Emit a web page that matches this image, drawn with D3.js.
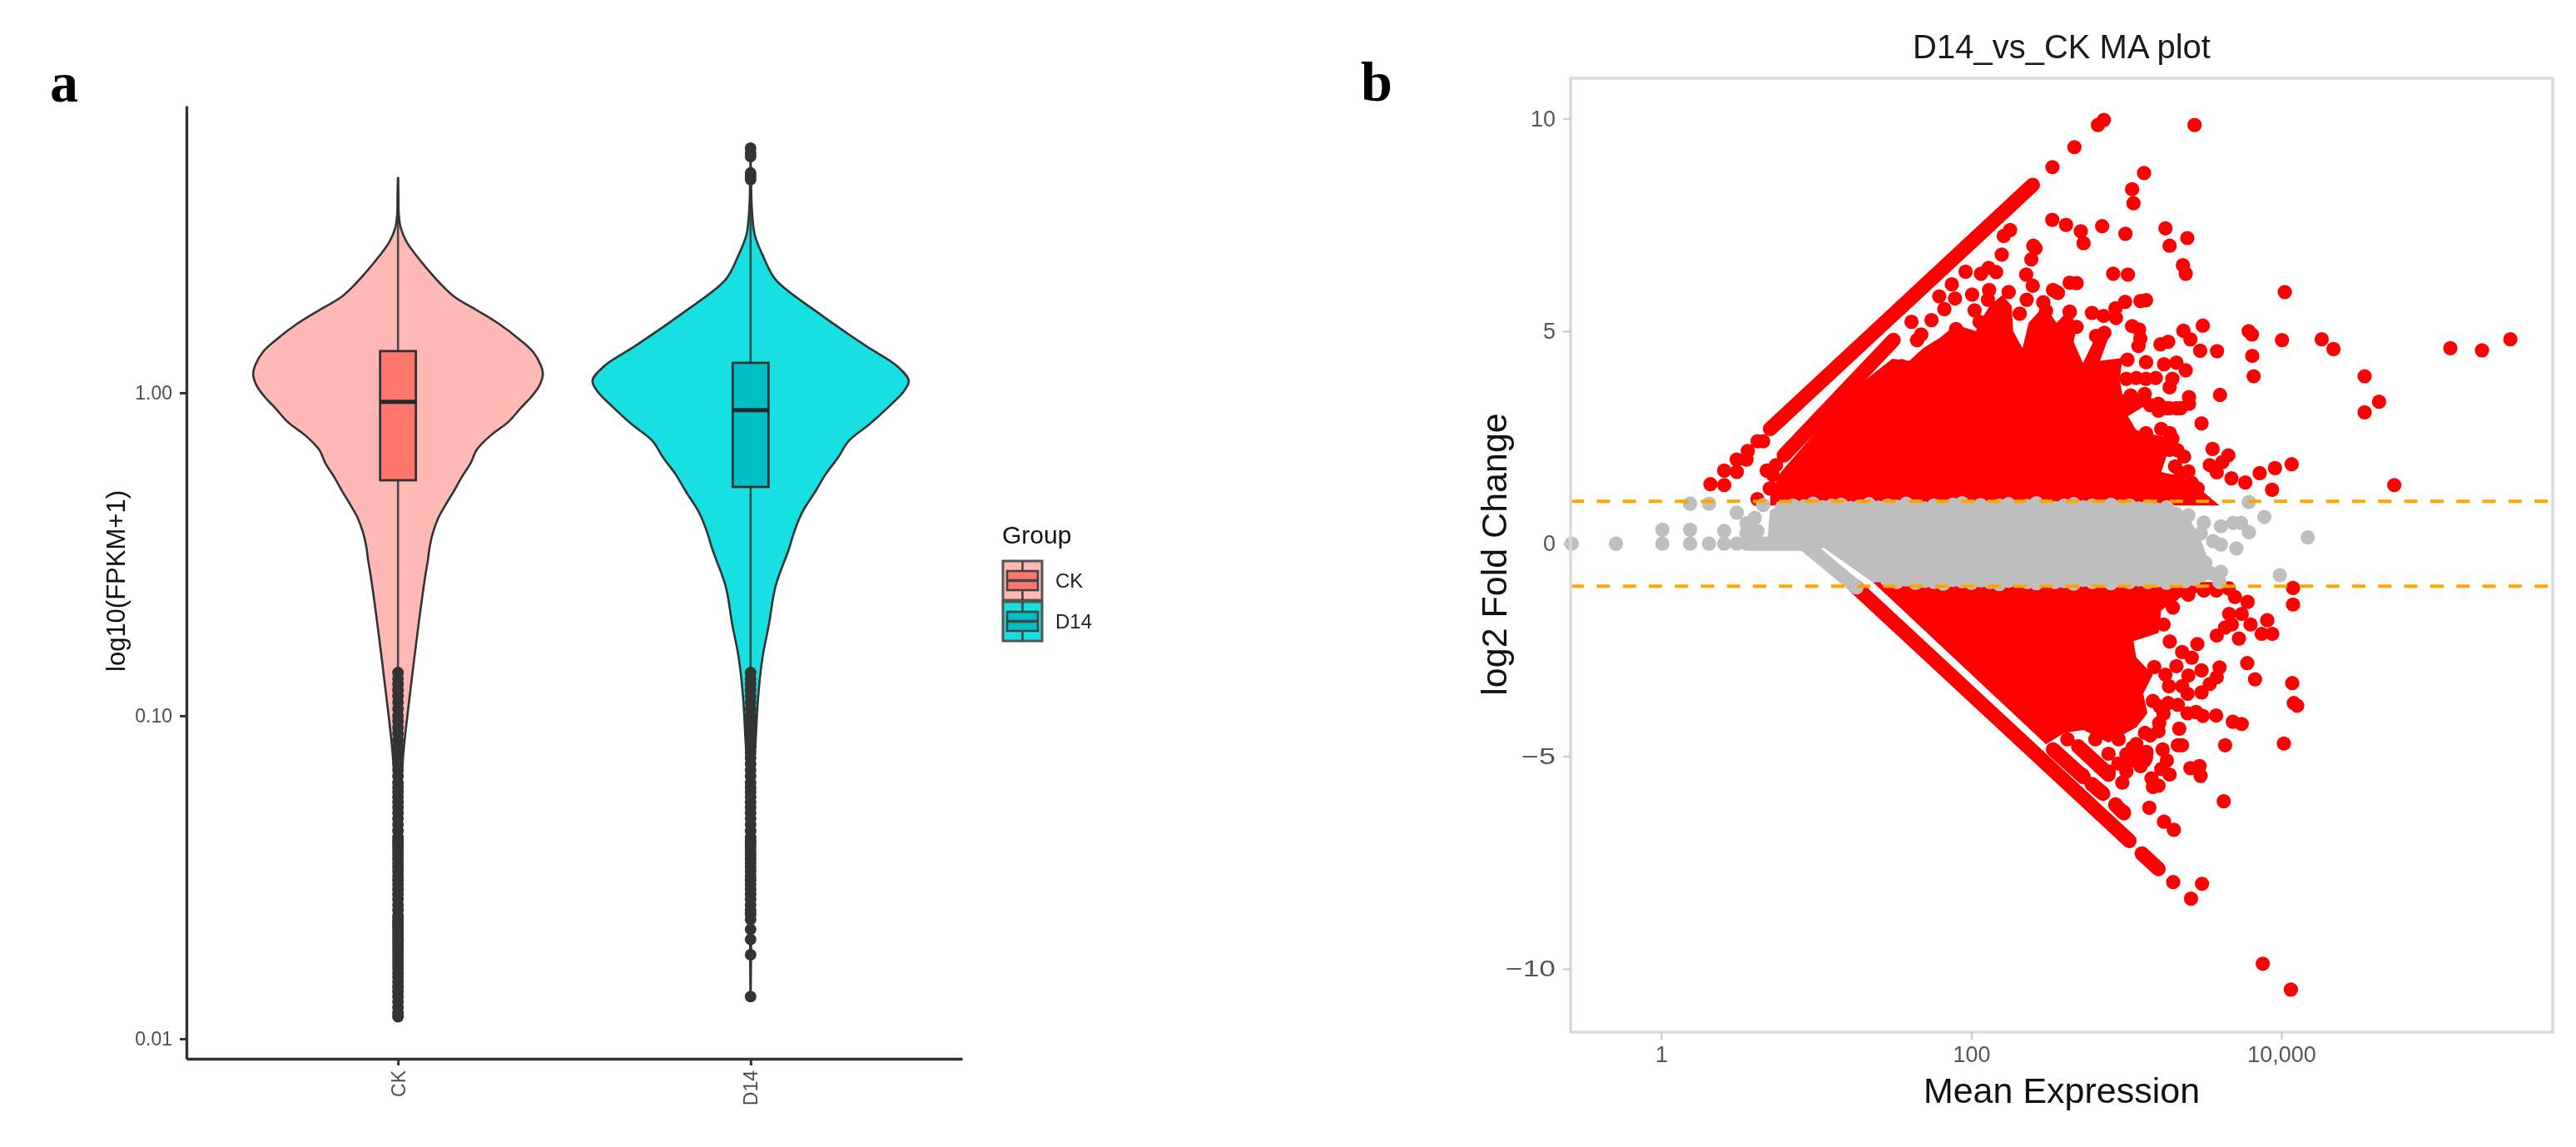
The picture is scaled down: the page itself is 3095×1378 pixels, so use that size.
<!DOCTYPE html>
<html><head><meta charset="utf-8">
<script src="https://cdn.jsdelivr.net/npm/d3@7"></script>
<style>
html,body{margin:0;padding:0;background:#fff}
svg{display:block;font-family:"Liberation Sans",Arial,sans-serif;filter:blur(0.6px)}
</style></head><body><svg id="c" width="3095" height="1378"></svg>
<script>
// ---------- Panel a: violin outlines ----------
const groups = ["CK","D14"];
const violinTicks = [0.01,0.1,1];
const ckFpkm = [4.65,4.1,3.58,3.26,2.94,2.66,2.42,2.19,1.98,1.80,1.63,1.47,1.34,1.21,1.14,1.055,.97,.90,.81,.74,.668,.604,.55,.496,.449,.408,.369,.333,.303,.274,.195,.115,.084,.068,.0436,.024,.0117];
const ckDensity = [0,.003,.005,.016,.053,.116,.184,.263,.358,.5,.642,.763,.853,.905,.916,.895,.842,.779,.695,.589,.5,.458,.405,.353,.3,.253,.221,.2,.189,.174,.132,.074,.042,.026,.01,.005,0];
const d14Fpkm = [5.8,4.57,3.73,3.09,2.65,2.24,1.77,1.40,1.21,1.09,1.01,.90,.80,.71,.63,.559,.496,.426,.369,.328,.252,.192,.15,.113,.0837,.068,.0436,.024,.0135];
const d14Density = [0,.003,.008,.026,.079,.158,.426,.726,.926,1,.968,.868,.753,.621,.553,.474,.411,.326,.274,.242,.158,.116,.074,.047,.032,.021,.01,.005,0];
const ckBox = {q1:.536, median:.937, q3:1.346, low:.136, high:4.65};
const d14Box = {q1:.511, median:.883, q3:1.238, low:.136, high:4.57};
const ckOutliers = [.136,.13,.125,.12,.115,.11,.105,.1,.096,.092,.088,.084,.08,.077,.074,.071,.068,.065,.062,.06,.058,.056,.054,.052,.05,.048,.046,.044,.042,.041,.04,.039,.038,.037,.036,.035,.034,.033,.032,.031,.03,.029,.028,.027,.026,.025,.024,.0235,.023,.0225,.022,.0215,.021,.0205,.02,.0195,.019,.0185,.018,.0175,.017,.0165,.016,.0155,.015,.0145,.014,.0135,.013,.0125,.012,.0117];
const d14Outliers = [5.72,5.52,5.39,4.79,4.68,4.57,.136,.13,.125,.12,.115,.11,.105,.1,.096,.092,.088,.084,.08,.077,.074,.071,.068,.065,.062,.06,.058,.056,.054,.052,.05,.048,.046,.044,.042,.041,.04,.039,.038,.037,.036,.035,.034,.033,.032,.031,.03,.029,.028,.027,.026,.025,.0243,.0234,.0218,.0203,.0182,.0135];
const violinFills = ["#FEB9B5","#17E0E3"];
const boxFills = ["#FF766D","#00BFC4"];

// ---------- Panel b: MA plot, [log10 mean expression, log2 fold change] ----------
const maXTicks = [0,2,4];
const maXLabels = ["1","100","10,000"];
const maYTicks = [-10,-5,0,5,10];
const thresholds = [1,-1];
const redUpperMass = [[.703,.9],[.703,1.63],[.737,1.43],[.773,1.69],[1.006,2.67],[1.2,3.55],[1.35,3.95],[1.49,4.35],[1.6,4.3],[1.69,4.6],[1.8,4.85],[1.9,5.15],[2.03,5.0],[2.05,5.2],[2.12,5.6],[2.2,5.85],[2.26,5.6],[2.27,5.0],[2.33,4.6],[2.37,5.2],[2.47,5.6],[2.55,5.2],[2.63,5.5],[2.68,5.1],[2.66,4.75],[2.72,4.25],[2.8,4.85],[2.9,5.0],[2.83,4.3],[2.975,4.37],[2.957,3.85],[2.974,3.52],[3.153,3.32],[3.01,3.0],[3.064,2.67],[3.207,2.54],[3.315,2.47],[3.261,2.08],[3.225,1.69],[3.368,1.56],[3.494,1.23],[3.60,.9]];
const redLowerMass = [[1.364,-.9],[2.482,-4.72],[2.599,-4.45],[2.724,-4.38],[2.885,-4.68],[3.064,-4.32],[3.136,-3.99],[3.109,-3.53],[3.171,-3.08],[3.064,-2.68],[3.046,-2.29],[3.207,-2.10],[3.225,-1.57],[3.315,-1.31],[3.69,-.9]];
const redRuns = [
 [[2.396,8.44],[.702,2.70]],
 [[1.498,4.79],[.791,2.08]],
 [[1.25,-1.0],[3.019,-6.99]],
 [[3.100,-7.29],[3.207,-7.65]],
 [[2.527,-4.84],[2.724,-5.49]],
 [[2.69,-4.77],[2.885,-5.43]],
 [[2.778,-5.66],[2.85,-5.88]],
 [[2.93,-6.15],[2.984,-6.34]]
];
const redPoints = [
[2.855,9.97],[2.817,9.85],[3.44,9.85],[2.665,9.33],[2.523,8.86],[3.114,8.72],[3.037,8.34],[3.046,8.01],[2.522,7.62],[2.611,7.50],[2.844,7.47],[2.706,7.35],[2.724,7.07],[2.994,7.29],[3.252,7.42],[3.393,7.19],[3.279,7.01],[3.365,6.55],[3.383,6.35],[2.915,6.35],[3.01,6.33],[4.022,5.92],[2.634,6.14],[2.679,6.13],[2.527,5.97],[2.559,5.90],[2.992,5.69],[3.091,5.71],[3.127,5.73],[2.778,5.43],[2.853,5.36],[2.93,5.54],[2.933,5.31],[2.634,5.46],[3.493,5.13],[3.368,5.01],[3.413,4.81],[3.037,5.12],[3.082,5.04],[3.09,4.83],[3.078,4.65],[2.858,4.96],[2.804,4.89],[3.27,4.75],[3.22,4.69],[3.789,5.0],[3.81,4.92],[4.004,4.79],[4.26,4.81],[4.336,4.58],[5.09,4.60],[5.294,4.55],[5.477,4.81],[3.476,4.54],[3.585,4.53],[3.812,4.42],[3.821,3.94],[4.537,3.94],[4.63,3.34],[4.537,3.09],[3.604,3.5],[3.485,2.83],[3.556,2.23],[3.658,2.08],[3.619,1.92],[3.538,1.85],[3.583,1.68],[3.678,1.54],[3.767,1.44],[3.86,1.66],[3.959,1.78],[4.066,1.87],[4.728,1.38],[3.372,2.05],[3.127,4.27],[3.243,4.22],[3.323,4.26],[3.383,4.08],[3.007,4.33],[3.19,3.9],[3.127,3.88],[3.064,3.9],[3.0,3.88],[3.297,3.88],[3.279,3.68],[3.404,3.45],[3.404,3.29],[3.323,3.19],[3.252,3.19],[3.207,3.29],[3.225,2.70],[3.297,2.47],[3.279,2.21],[3.127,2.6],[3.118,3.52],[3.028,3.49],[3.314,1.82],[3.35,1.66],[3.422,1.43],[3.368,1.30],[3.94,1.27],
[3.064,3.32],[3.153,3.26],[3.207,3.13],[3.279,3.19],[3.35,3.19],[3.28,2.6],[3.33,2.2],[3.4,1.7],[3.46,1.3],[3.3,1.45],
[.621,2.41],[.657,2.41],[.558,2.18],[.487,1.98],[.55,1.98],[.406,1.72],[.487,1.69],[.317,1.40],[.406,1.38],[.62,1.05],[.70,1.3],[.74,1.85],[.68,1.72],[.72,1.62],
[2.25,7.38],[2.209,7.24],[2.196,6.80],[2.414,6.95],[2.387,6.69],[2.40,7.01],[2.354,6.33],[2.396,6.07],[2.112,6.49],[2.062,6.35],[2.16,6.39],[1.963,6.40],[1.874,6.10],[1.793,5.82],[1.895,5.77],[1.826,5.52],[2.005,5.86],[2.115,5.97],[2.107,5.74],[2.241,5.92],[2.021,5.49],[2.053,5.22],[1.614,5.22],[1.743,5.26],[1.677,4.92],[1.65,4.79],[1.901,5.05],[2.357,5.74],[2.312,5.41],[2.464,5.68],[2.482,5.48],[2.635,5.45],[2.545,5.93],[2.679,5.1],[1.55,4.18],[1.47,4.0],
[4.075,-1.04],[4.075,-1.43],[3.782,-1.37],[3.909,-1.80],[3.873,-2.12],[3.941,-2.12],[3.801,-1.90],[3.744,-1.65],[3.663,-1.65],[3.726,-2.23],[3.78,-2.81],[3.83,-3.19],[4.07,-3.28],[4.08,-3.75],[4.102,-3.81],[4.016,-4.70],[3.637,-4.74],[3.744,-4.24],[3.687,-4.19],[3.579,-4.04],[3.493,-4.05],[3.449,-3.96],[3.395,-3.99],[3.332,-3.79],[3.601,-2.91],[3.583,-3.14],[3.538,-3.3],[3.485,-3.5],[3.395,-3.53],[3.485,-2.98],[3.422,-2.68],[3.275,-3.35],[3.171,-3.7],[3.216,-3.83],[3.207,-4.41],[3.212,-4.22],[3.341,-4.35],[3.332,-4.74],[3.359,-4.74],[3.234,-4.84],[3.261,-5.1],[3.225,-5.3],[3.279,-5.43],[3.162,-5.52],[3.171,-5.72],[3.207,-5.69],[3.413,-5.28],[3.472,-5.23],[3.479,-5.46],[3.628,-6.06],[3.148,-6.21],[3.243,-6.54],[3.306,-6.73],[2.93,-6.13],[2.983,-6.31],[2.778,-5.66],[2.831,-5.82],[3.302,-7.96],[3.488,-8.0],[3.417,-8.35],[3.88,-9.88],[4.061,-10.49],[3.091,-5.0],[3.127,-5.03],[3.046,-5.1],[3.091,-5.23],[2.974,-5.62],[3.0,-5.36],[2.948,-5.17],[2.885,-5.36],[3.064,-4.71],[2.885,-4.94],[3.458,-2.36],[3.583,-2.16],[3.637,-1.97],[3.68,-1.9],[3.323,-2.88],[3.252,-3.08],[2.715,-5.43],[3.046,-4.97],[3.118,-5.1],[3.154,-4.51],[3.3,-1.5],[3.4,-1.2],[3.5,-1.1],[3.58,-1.1],[3.66,-1.05],[3.7,-1.25],
[3.0,-4.95],[3.0,-5.1],[3.1,-5.1],[3.04,-4.8],[3.13,-4.9],[2.8,-4.6],[2.95,-4.6],[2.62,-4.6],[3.24,-1.9],[3.28,-2.3],[3.36,-2.55],[3.18,-2.9],[3.3,-1.2],[3.27,-3.75],[3.12,-4.45],[3.4,-3.1],[3.36,-3.35],[3.24,-4.0]
];
const grayMass = [[.70,.77],[.755,.9],[3.25,.9],[3.35,.8],[3.42,.5],[3.48,.1],[3.52,-.3],[3.55,-.8],[3.5,-.9],[1.36,-.9],[1.09,-.2],[1.05,-.1],[.93,-.157],[.68,-.157]];
const grayRuns = [[[.55,0],[.93,0]],[[.93,-.03],[1.26,-1.03]]];
const grayPoints = [
[-.578,0],[-.292,0],[.007,0],[.007,.33],[.186,0],[.186,.33],[.186,.94],[.308,0],[.308,.94],[.406,0],[.406,.30],[.487,0],[.487,.73],[.55,.48],[.55,.25],[.603,.61],[.657,.91],[.62,.3],
[4.17,.15],[3.89,.63],[3.79,.98],[3.79,.27],[3.74,.49],[3.69,.49],[3.61,.41],[3.56,.06],[3.71,-.11],[3.61,-.02],[3.61,-.66],[3.99,-.74],[3.51,-.45],[3.48,.24],[3.4,.67],[3.38,.59],[3.5,.5],[3.55,-.7],[3.6,-.9],
[.78,.86],[.85,.9],[.92,.88],[.98,.94],[1.04,.86],[1.1,.9],[1.16,.92],[1.22,.84],[1.28,.88],[1.34,.93],[1.4,.85],[1.46,.9],[1.52,.87],[1.58,.94],[1.64,.88],[1.7,.83],[1.76,.9],[1.82,.86],[1.88,.92],[1.94,.95],[2.0,.87],[2.06,.91],[2.12,.85],[2.18,.9],[2.24,.93],[2.3,.86],[2.36,.89],[2.42,.95],[2.48,.88],[2.54,.84],[2.6,.9],[2.66,.93],[2.72,.86],[2.78,.9],[2.84,.85],[2.9,.92],[2.96,.87],[3.02,.9],[3.08,.83],[3.14,.88],[3.2,.8],[3.26,.86],[3.32,.7],
[1.46,-.86],[1.52,-.9],[1.58,-.84],[1.64,-.92],[1.7,-.87],[1.76,-.9],[1.82,-.94],[1.88,-.85],[1.94,-.88],[2.0,-.92],[2.06,-.86],[2.12,-.9],[2.18,-.95],[2.24,-.87],[2.3,-.84],[2.36,-.9],[2.42,-.93],[2.48,-.86],[2.54,-.9],[2.6,-.88],[2.66,-.94],[2.72,-.85],[2.78,-.9],[2.84,-.87],[2.9,-.93],[2.96,-.86],[3.02,-.9],[3.08,-.84],[3.14,-.9],[3.2,-.86],[3.26,-.92],[3.32,-.85],[3.38,-.88],[3.44,-.83]
];

// ---------- Drawing ----------
const svg = d3.select("#c");
const textGray = "#4D4D4D", dark = "#333333";

// Panel a scales
const xA = d3.scalePoint().domain(groups).range([224,1156]).padding(0.6);
const yA = d3.scaleLog().domain([0.00867,7.74]).range([1272,127]);
const wA = d3.scaleLinear().domain([0,1]).range([0,190]);
const pa = svg.append("g");

const violins = [
 {g:"CK",y:ckFpkm,d:ckDensity,box:ckBox,out:ckOutliers},
 {g:"D14",y:d14Fpkm,d:d14Density,box:d14Box,out:d14Outliers}
];
violins.forEach((v,i)=>{
  const cx = xA(v.g);
  const area = d3.area().curve(d3.curveCatmullRom.alpha(.5))
    .y((d,k)=>yA(v.y[k])).x0((d,k)=>cx-wA(v.d[k])).x1((d,k)=>cx+wA(v.d[k]));
  pa.append("path").attr("d",area(v.y)).attr("fill",violinFills[i]).attr("stroke",dark).attr("stroke-width",2.6);
  pa.append("line").attr("x1",cx).attr("x2",cx).attr("y1",yA(v.box.high)).attr("y2",yA(v.box.low)).attr("stroke",dark).attr("stroke-width",2.6).attr("opacity",.85);
  pa.append("rect").attr("x",cx-21.5).attr("width",43).attr("y",yA(v.box.q3)).attr("height",yA(v.box.q1)-yA(v.box.q3))
    .attr("fill",boxFills[i]).attr("stroke",dark).attr("stroke-width",2.8);
  pa.append("line").attr("x1",cx-21.5).attr("x2",cx+21.5).attr("y1",yA(v.box.median)).attr("y2",yA(v.box.median)).attr("stroke","#1d2b2b").attr("stroke-width",5);
  pa.selectAll(null).data(v.out).join("circle").attr("cx",cx).attr("cy",d=>yA(d)).attr("r",7).attr("fill",dark);
});
pa.append("line").attr("x1",xA("D14")).attr("x2",xA("D14")).attr("y1",yA(.0218)).attr("y2",yA(.0135)).attr("stroke",dark).attr("stroke-width",2.6);
const axL = pa.append("g").attr("transform","translate(224,0)")
  .call(d3.axisLeft(yA).tickValues(violinTicks).tickFormat(d3.format(".2f")).tickSizeInner(8).tickSizeOuter(0).tickPadding(9));
const axB = pa.append("g").attr("transform","translate(0,1272)")
  .call(d3.axisBottom(xA).tickSizeInner(8).tickSizeOuter(0));
[axL,axB].forEach(a=>{
  a.select(".domain").attr("stroke",dark).attr("stroke-width",3.4);
  a.selectAll(".tick line").attr("stroke",dark).attr("stroke-width",3);
  a.selectAll("text").attr("font-family","Liberation Sans").attr("font-size",23).attr("fill",textGray);
});
axB.selectAll("text").attr("transform","rotate(-90)").attr("text-anchor","end").attr("x",-14).attr("y",0).attr("dy","0.35em");
pa.append("text").attr("transform","translate(150,698) rotate(-90)").attr("text-anchor","middle").attr("font-size",31).attr("fill","#111").text("log10(FPKM+1)");

// legend
const lg = pa.append("g");
lg.append("text").attr("x",1204).attr("y",653).attr("font-size",30).attr("fill","#111").text("Group");
groups.forEach((g,i)=>{
  const t = 674+i*49, k = lg.append("g");
  k.append("rect").attr("x",1205).attr("y",t).attr("width",47).attr("height",47).attr("fill",violinFills[i]).attr("stroke","#555").attr("stroke-width",3);
  k.append("line").attr("x1",1228.5).attr("x2",1228.5).attr("y1",t).attr("y2",t+47).attr("stroke","#444").attr("stroke-width",2.6);
  k.append("rect").attr("x",1210).attr("y",t+12).attr("width",37).attr("height",23).attr("fill",boxFills[i]).attr("stroke","#444").attr("stroke-width",2.6);
  k.append("line").attr("x1",1210).attr("x2",1247).attr("y1",t+23.5).attr("y2",t+23.5).attr("stroke","#444").attr("stroke-width",3.4);
  lg.append("text").attr("x",1268).attr("y",t+32).attr("font-size",24).attr("fill","#222").text(g);
});

// Panel b scales
const xB = d3.scaleLinear().domain([-.585,5.75]).range([1887,3067]);
const yB = d3.scaleLinear().domain([-11.49,10.95]).range([1240,94]);
const pb = svg.append("g");
const line = d3.line().x(d=>xB(d[0])).y(d=>yB(d[1]));
const DOT = 8.6;

[redUpperMass,redLowerMass].forEach(m=>pb.append("path").attr("d",line(m)+"Z").attr("fill","#FF0000"));
pb.selectAll(null).data(redRuns).join("path").attr("d",line).attr("fill","none").attr("stroke","#FF0000").attr("stroke-width",17.5).attr("stroke-linecap","round");
pb.selectAll(null).data(redPoints).join("circle").attr("cx",d=>xB(d[0])).attr("cy",d=>yB(d[1])).attr("r",DOT).attr("fill","#FF0000");
pb.append("path").attr("d",line(grayMass)+"Z").attr("fill","#BEBEBE");
pb.selectAll(null).data(grayRuns).join("path").attr("d",line).attr("fill","none").attr("stroke","#BEBEBE").attr("stroke-width",17).attr("stroke-linecap","round");
pb.selectAll(null).data(grayPoints).join("circle").attr("cx",d=>xB(d[0])).attr("cy",d=>yB(d[1])).attr("r",DOT).attr("fill","#BEBEBE");
pb.selectAll(null).data(thresholds).join("line").attr("x1",1887).attr("x2",3067).attr("y1",d=>yB(d)).attr("y2",d=>yB(d))
  .attr("stroke","#FFA500").attr("stroke-width",4).attr("stroke-dasharray","16 15.3");

pb.append("rect").attr("x",1887).attr("y",94).attr("width",1180).attr("height",1146).attr("fill","none").attr("stroke","#D9D9D9").attr("stroke-width",3.4);
const ayB = pb.append("g").attr("transform","translate(1887,0)")
  .call(d3.axisLeft(yB).tickValues(maYTicks).tickFormat(d=>d<0?"\u2212"+Math.abs(d):d).tickSize(9).tickPadding(9));
const axBb = pb.append("g").attr("transform","translate(0,1240)")
  .call(d3.axisBottom(xB).tickValues(maXTicks).tickFormat((d,i)=>maXLabels[i]).tickSize(9).tickPadding(8));
[ayB,axBb].forEach(a=>{
  a.select(".domain").remove();
  a.selectAll(".tick line").attr("stroke","#CCCCCC").attr("stroke-width",2.4);
  a.selectAll("text").attr("font-family","Liberation Sans").attr("font-size",27).attr("fill","#555");
});
ayB.selectAll(".tick text").filter(d=>d<0).attr("textLength",d=>d===-10?60:41).attr("lengthAdjust","spacingAndGlyphs");
pb.append("text").attr("x",2477).attr("y",70).attr("text-anchor","middle").attr("font-size",40).attr("fill","#1a1a1a").text("D14_vs_CK MA plot");
pb.append("text").attr("x",2477).attr("y",1325).attr("text-anchor","middle").attr("font-size",43).attr("fill","#111").text("Mean Expression");
pb.append("text").attr("transform","translate(1810,666) rotate(-90)").attr("text-anchor","middle").attr("font-size",43).attr("fill","#111").text("log2 Fold Change");

// panel letters
svg.append("text").attr("x",60).attr("y",122).attr("font-family","Liberation Serif").attr("font-weight","bold").attr("font-size",68).attr("fill","#000").text("a");
svg.append("text").attr("x",1635).attr("y",121).attr("font-family","Liberation Serif").attr("font-weight","bold").attr("font-size",68).attr("fill","#000").text("b");
</script></body></html>
